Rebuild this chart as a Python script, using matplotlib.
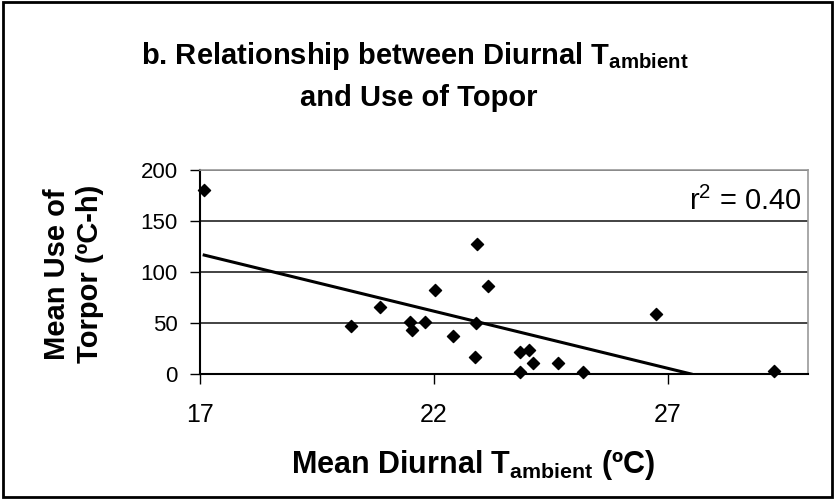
import matplotlib
matplotlib.use("Agg")
import matplotlib.pyplot as plt
from matplotlib.patches import Rectangle
import numpy as np

plt.rcParams['font.family'] = ['Liberation Sans', 'DejaVu Sans']
plt.rcParams['mathtext.default'] = 'regular'

# Data
temp_c = [17.09, 20.23, 20.85, 21.49, 21.54, 21.82, 22.02, 22.41, 22.93, 23.16,
          22.91, 22.89, 23.84, 24.04, 24.12, 23.84, 24.66, 25.19, 26.76, 29.27]
torpor = [180, 47, 66, 51, 43, 51, 82, 37, 127, 86,
          50, 17, 22, 24, 11, 2, 11, 2, 59, 3]
trend_slope = -11.2
trend_intercept = 308.0
r2_text = "r$^2$ = 0.40"
x_ticks = [17, 22, 27]
y_ticks = [0, 50, 100, 150, 200]

fig = plt.figure(figsize=(8.35, 5), dpi=100)
fig.patches.append(Rectangle((0.004, 0.006), 0.992, 0.99, transform=fig.transFigure,
                             fill=False, edgecolor='black', linewidth=2))

ax = fig.add_axes([0.2395, 0.252, 0.7282, 0.408])
ax.set_xlim(17, 30)
ax.set_ylim(0, 200)

for yv in y_ticks[1:]:
    ax.axhline(yv, color='#222222', linewidth=1.2, zorder=1)

# trend line, from min x to where it hits 0
x0 = min(temp_c)
x1 = -trend_intercept / trend_slope
xs = np.array([x0, x1])
ax.plot(xs, trend_slope * xs + trend_intercept, color='black', linewidth=2.2, zorder=2)

ax.scatter(temp_c, torpor, marker='D', s=38, color='black', zorder=3, clip_on=False)

ax.set_xticks(x_ticks)
ax.set_yticks(y_ticks)
ax.tick_params(axis='both', direction='out', length=7, width=1, color='black')
ax.tick_params(axis='x', labelsize=18, pad=14)
ax.tick_params(axis='y', labelsize=16, pad=9)

for side in ['top', 'right']:
    ax.spines[side].set_color('#999999')
    ax.spines[side].set_linewidth(1.2)
ax.spines['left'].set_linewidth(1.5)
ax.spines['bottom'].set_linewidth(1.5)

ax.text(0.99, 0.845, r2_text, transform=ax.transAxes, ha='right', va='center', fontsize=21)

fig.text(0.497, 0.888, r'b. Relationship between Diurnal T$_{ambient}$', ha='center', va='center',
         fontsize=21, fontweight='bold')
fig.text(0.502, 0.805, 'and Use of Topor', ha='center', va='center', fontsize=21, fontweight='bold')

fig.text(0.566, 0.07, r'Mean Diurnal T$_{ambient}$ (ºC)', ha='center', va='center',
         fontsize=22, fontweight='bold')
fig.text(0.088, 0.452, 'Mean Use of\nTorpor (ºC-h)', ha='center', va='center', rotation=90,
         fontsize=21, fontweight='bold', linespacing=1.25)

fig.savefig('out.png', dpi=100)
